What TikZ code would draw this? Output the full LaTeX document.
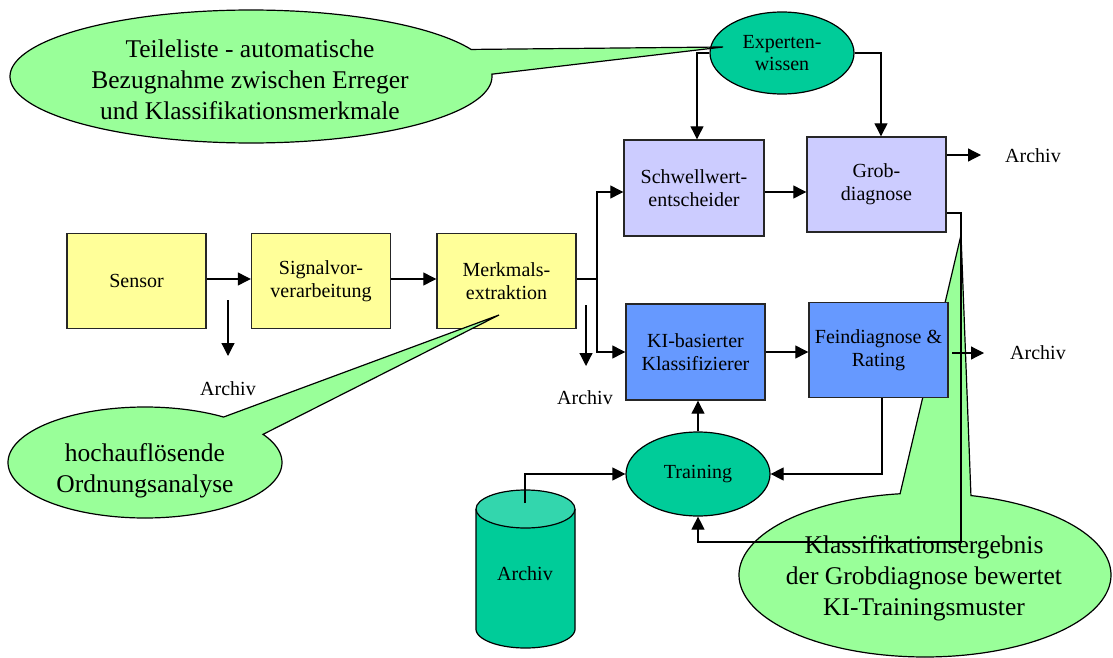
\documentclass[tikz,border=0pt]{standalone}
\usepackage{fontspec}
\setmainfont{Liberation Serif}
\usetikzlibrary{arrows.meta,shapes.geometric}
\definecolor{callgreen}{HTML}{99FF99}
\definecolor{expgreen}{HTML}{00CC99}
\definecolor{cyltop}{HTML}{33D6AD}
\definecolor{boxyellow}{HTML}{FFFF99}
\definecolor{boxlilac}{HTML}{CCCCFF}
\definecolor{boxblue}{HTML}{6699FF}
\begin{document}
\begin{tikzpicture}[x=0.5pt,y=-0.5pt,
  box/.style={draw=black!85,line width=0.7pt,inner sep=1pt,align=center,
    minimum width=69.5pt,minimum height=47.5pt,font=\fontsize{10}{11.7}\selectfont},
  oval/.style={ellipse,draw=black,line width=0.6pt,fill=expgreen,inner sep=0pt,
    minimum width=72pt,minimum height=41pt,align=center,font=\fontsize{10}{10.8}\selectfont},
  conn/.style={line width=0.6pt,-{Triangle[length=6.5pt,width=6.5pt]}},
  wire/.style={line width=0.6pt},
  bubble/.style={fill=callgreen,draw=black,line width=0.6pt,line join=miter},
  calltext/.style={align=center,font=\fontsize{12.75}{15.5}\selectfont,inner sep=0pt},
  lbl/.style={font=\fontsize{10}{12}\selectfont,inner sep=0pt}
]
\useasboundingbox (0,0) rectangle (1113,658);

% bottom-right callout (behind the boxes)
\draw[bubble] (961,235) -- plot[domain=-75.7:262.3,samples=160,variable=\t]
  ({925+186*cos(\t)},{575+82*sin(\t)}) -- cycle;
\node[calltext] (c3) at (924,578) {Klassifikationsergebnis\\der Grobdiagnose bewertet\\KI-Trainingsmuster};

% boxes
\node[box,fill=boxyellow] (sensor) at (136.5,281) {Sensor};
\node[box,fill=boxyellow] (signal) at (321,281) {Signalvor-\\verarbeitung};
\node[box,fill=boxyellow] (merk) at (506.5,281) {Merkmals-\\extraktion};
\node[box,fill=boxlilac,minimum width=70pt,minimum height=48pt] (schw) at (694,188) {Schwellwert-\\entscheider};
\node[box,fill=boxlilac] (grob) at (876.5,184.5) {Grob-\\diagnose};
\node[box,fill=boxblue,minimum height=48pt] (ki) at (695.5,352) {KI-basierter\\Klassifizierer};
\node[box,fill=boxblue] (feind) at (878.5,350) {Feindiagnose \&\\Rating};

% ellipses
\node[oval] (exp) at (782,53) {Experten-\\wissen};
\node[oval,minimum height=42pt] (train) at (698,474) {Training};

% cylinder
\fill[expgreen] (476,509) -- plot[domain=180:0,samples=60,variable=\t]
  ({525.5+49.5*cos(\t)},{629+19*sin(\t)}) -- (575,509) -- cycle;
\draw[line width=0.6pt] (476,509) -- plot[domain=180:0,samples=60,variable=\t]
  ({525.5+49.5*cos(\t)},{629+19*sin(\t)}) -- (575,509);
\draw[fill=cyltop,line width=0.6pt] (525.5,509) ellipse [x radius=24.75pt,y radius=9.5pt];
\node[lbl] (archC) at (525,574) {Archiv};

% top-left callout
\draw[bubble] (723,47) -- plot[domain=-2:336,samples=160,variable=\t]
  ({251+241*cos(\t)},{76.5+66.5*sin(\t)}) -- cycle;
\node[calltext] (c1) at (250,80) {Teileliste - automatische\\Bezugnahme zwischen Erreger\\und Klassifikationsmerkmale};

% bottom-left callout
\draw[bubble] (499,315) -- plot[domain=-30.5:305,samples=160,variable=\t]
  ({145+137*cos(\t)},{462.5+55.5*sin(\t)}) -- cycle;
\node[calltext] (c2) at (145,471) {hochauflösende\\Ordnungsanalyse};

% archive labels
\node[lbl] (a1) at (228,389) {Archiv};
\node[lbl] (a2) at (585,398) {Archiv};
\node[lbl] (a3) at (1033,156) {Archiv};
\node[lbl] (a4) at (1038,353) {Archiv};

% connectors
\coordinate (s1) at (228,300);
\coordinate (s1e) at (228,356);
\draw[conn] (s1) -- (s1e);
\coordinate (sy) at (0,279);
\draw[conn] (sensor.east |- sy) -- (signal.west |- sy);
\draw[conn] (signal.east |- sy) -- (merk.west |- sy);
\coordinate (split) at (597,279);
\draw[wire] (merk.east |- split) -- (split);
\coordinate (sw) at (0,192);
\draw[conn] (split) |- (schw.west |- sw);
\draw[conn] (split) |- (ki.west);
\coordinate (m1) at (586,305);
\coordinate (m1e) at (586,366);
\draw[conn] (m1) -- (m1e);
\draw[conn] (schw.east |- sw) -- (grob.west |- sw);
\coordinate (g1e) at (981,155);
\draw[conn] (grob.east |- g1e) -- (g1e);
\draw[conn] (ki.east) -- (feind.west |- ki.east);
\coordinate (f1s) at (952,353);
\coordinate (f1e) at (984,353);
\draw[conn] (f1s) -- (f1e);
\draw[conn] (exp.west) -| ([xshift=1.5pt]schw.north);
\draw[conn] (exp.east) -| ([xshift=2.25pt]grob.north);
\coordinate (g2) at (961,213);
\coordinate (g3) at (961,542);
\draw[conn] (grob.east |- g2) -- (g2) -- (g3) -| (train.south);
\draw[conn] ([xshift=1.75pt]feind.south) |- (train.east);
\coordinate (cyl) at (525,503);
\draw[conn] (cyl) |- (train.west);
\draw[conn] (train.north) -- (train.north |- ki.south);
\end{tikzpicture}
\end{document}
